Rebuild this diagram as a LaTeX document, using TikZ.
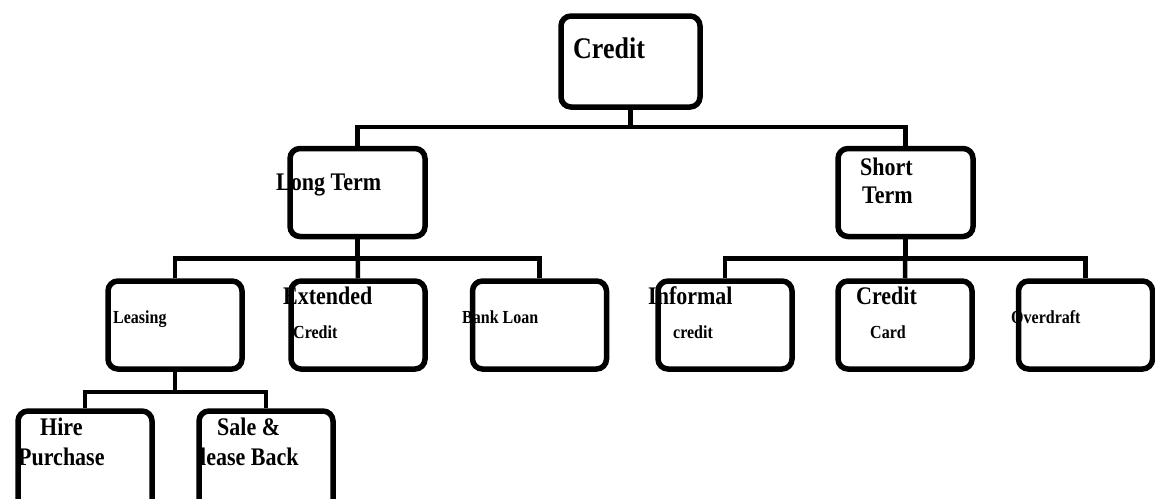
\documentclass[tikz,border=0pt]{standalone}
\usepackage{fontspec}
\setmainfont{Liberation Serif}

\newcommand{\tall}[1]{\scalebox{1}[1.15]{#1}}

\begin{document}
\begin{tikzpicture}[%
  x=1pt, y=-1pt,
  box/.style = {draw, line width=5.5pt, rounded corners=10pt,
                minimum width=134pt, minimum height=88pt, inner sep=0pt},
  link/.style = {line width=4.5pt},
  big/.style = {font=\bfseries\fontsize{22}{24}\selectfont, inner sep=0pt, anchor=base west},
  small/.style = {font=\bfseries\fontsize{16}{18}\selectfont, inner sep=0pt, anchor=base west},
]

  \clip (0,0) rectangle (1155,498);

  % boxes
  \node[box, minimum width=139pt, minimum height=91pt] (credit) at (630.5,61.5) {};

  \node[box, minimum width=135pt] (longterm)  at (357.5,192.5) {};
  \node[box, minimum width=135pt] (shortterm) at (905.5,192.5) {};

  \node[box] (leasing)    at (175,325)    {};
  \node[box] (extended)   at (358,325)    {};
  \node[box] (bankloan)   at (539.5,325)  {};
  \node[box] (informal)   at (725,325)    {};
  \node[box] (creditcard) at (905,325)    {};
  \node[box] (overdraft)  at (1085.5,325) {};

  % bottom row runs off the page
  \node[box, minimum height=120pt] (hire)     at (85,471)  {};
  \node[box, minimum height=120pt] (saleback) at (266,471) {};

  % connectors
  \draw[link] (credit.south) -- ++(0,17) -| (longterm.north);
  \draw[link] (credit.south) -- ++(0,17) -| (shortterm.north);

  \draw[link] (longterm.south) -- ++(0,19) -| (leasing.north);
  \draw[link] (longterm.south) -- (extended.north);
  \draw[link] (longterm.south) -- ++(0,19) -| (bankloan.north);

  \draw[link] (shortterm.south) -- ++(0,19) -| (informal.north);
  \draw[link] (shortterm.south) -- (creditcard.north);
  \draw[link] (shortterm.south) -- ++(0,19) -| (overdraft.north);

  \draw[link] (leasing.south) -- ++(0,20) -| (hire.north);
  \draw[link] (leasing.south) -- ++(0,20) -| (saleback.north);

  % labels
  \node[big, font=\bfseries\fontsize{26}{28}\selectfont] (t-credit) at (573,58) {\tall{Credit}};

  \node[big] (t-long)   at (276,190) {\tall{Long Term}};
  \node[big] (t-short1) at (860,175) {\tall{Short}};
  \node[big] (t-short2) at (862,203) {\tall{Term}};

  \node[small] (t-leasing) at (113,323) {\tall{Leasing}};
  \node[big]   (t-ext1)    at (283,304) {\tall{Extended}};
  \node[small] (t-ext2)    at (293,338) {\tall{Credit}};
  \node[small] (t-bank)    at (462,323) {\tall{Bank Loan}};
  \node[big]   (t-inf1)    at (648,304) {\tall{Informal}};
  \node[small] (t-inf2)    at (673,338) {\tall{credit}};
  \node[big]   (t-card1)   at (856,304) {\tall{Credit}};
  \node[small] (t-card2)   at (870,338) {\tall{Card}};
  \node[small] (t-over)    at (1011,323) {\tall{Overdraft}};

  \node[big] (t-hire1) at (40,435)  {\tall{Hire}};
  \node[big] (t-hire2) at (18,465)  {\tall{Purchase}};
  \node[big] (t-sale1) at (217,435) {\tall{Sale \&}};
  \node[big] (t-sale2) at (200,465) {\tall{lease Back}};

\end{tikzpicture}
\end{document}
